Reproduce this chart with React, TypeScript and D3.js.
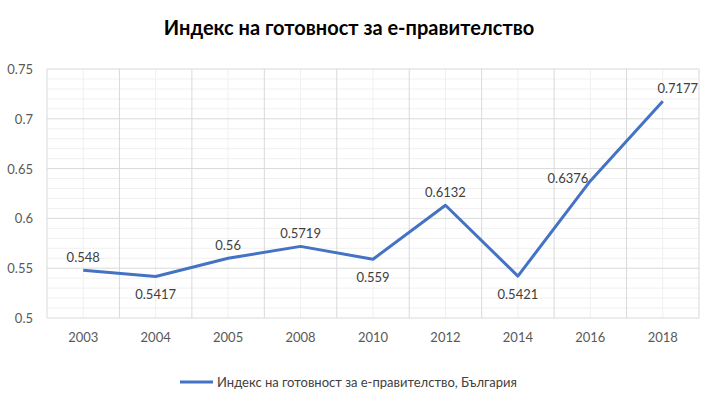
import * as d3 from 'd3';

const years = ['2003', '2004', '2005', '2008', '2010', '2012', '2014', '2016', '2018'];
const values = [0.548, 0.5417, 0.56, 0.5719, 0.559, 0.6132, 0.5421, 0.6376, 0.7177];
const labelPlaces = ['above', 'below', 'above', 'above', 'below', 'above', 'below', 'left', 'aboveRight'];
const yTicks = [0.5, 0.55, 0.6, 0.65, 0.7, 0.75];

const title = 'Индекс на готовност за е-правителство';
const seriesName = 'Индекс на готовност за е-правителство, България';

const W = 712;
const H = 397;
const margin = { top: 69, right: 13, bottom: 79, left: 47 };
const font = 'Lato, "Open Sans", sans-serif';
const blue = '#4472C4';

export default function App() {
  const x = d3
    .scaleBand()
    .domain(years)
    .range([margin.left, W - margin.right]);
  const y = d3
    .scaleLinear()
    .domain([0.5, 0.75])
    .range([H - margin.bottom, margin.top]);

  const cx = (d: string) => (x(d) ?? 0) + x.bandwidth() / 2;
  const line = d3
    .line<number>()
    .x((_, i) => cx(years[i]))
    .y((v) => y(v));

  // minor gridlines every 0.01
  const minorTicks = d3.range(0.5, 0.7501, 0.01).filter((t) => !yTicks.some((m) => Math.abs(m - t) < 1e-6));
  const bounds = years.map((d) => x(d) ?? 0).concat([W - margin.right]);

  return (
    <svg width={W} height={H} style={{ position: 'absolute', left: 0, top: 0, background: '#fff' }}>
      <text x={349} y={35} textAnchor="middle" fontFamily={font} fontWeight="bold" fontSize={20} fill="#000">
        {title}
      </text>

      {minorTicks.map((t) => (
        <line key={'m' + t} x1={margin.left} x2={W - margin.right} y1={y(t)} y2={y(t)} stroke="#F0F0F0" />
      ))}
      {years.map((d) => (
        <line key={'vc' + d} x1={cx(d)} x2={cx(d)} y1={margin.top} y2={H - margin.bottom} stroke="#F0F0F0" />
      ))}
      {yTicks.map((t) => (
        <line key={'g' + t} x1={margin.left} x2={W - margin.right} y1={y(t)} y2={y(t)} stroke="#D9D9D9" />
      ))}
      {bounds.map((b, i) => (
        <line key={'vb' + i} x1={b} x2={b} y1={margin.top} y2={H - margin.bottom} stroke="#D9D9D9" />
      ))}

      {yTicks.map((t) => (
        <text key={'yt' + t} x={33} y={y(t) + 5} textAnchor="end" fontFamily={font} fontSize={13} fill="#595959">
          {String(+t.toFixed(2))}
        </text>
      ))}
      {years.map((d) => (
        <text key={'xt' + d} x={cx(d)} y={H - margin.bottom + 24} textAnchor="middle" fontFamily={font} fontSize={13} fill="#595959">
          {d}
        </text>
      ))}

      <path d={line(values) ?? ''} fill="none" stroke={blue} strokeWidth={3} strokeLinejoin="round" />

      {values.map((v, i) => {
        const px = cx(years[i]);
        const py = y(v);
        const place = labelPlaces[i];
        let lx = px;
        let ly = py - 8;
        let anchor: 'middle' | 'end' = 'middle';
        if (place === 'below') ly = py + 23;
        if (place === 'left') {
          lx = px - 2;
          ly = py + 2;
          anchor = 'end';
        }
        if (place === 'aboveRight') lx = px + 15;
        return (
          <text key={'dl' + i} x={lx} y={ly} textAnchor={anchor} fontFamily={font} fontSize={13} fill="#404040">
            {String(v)}
          </text>
        );
      })}

      <line x1={180} x2={213} y1={382} y2={382} stroke={blue} strokeWidth={3} />
      <text x={217} y={386.5} fontFamily={font} fontSize={13} fill="#404040">
        {seriesName}
      </text>
    </svg>
  );
}
